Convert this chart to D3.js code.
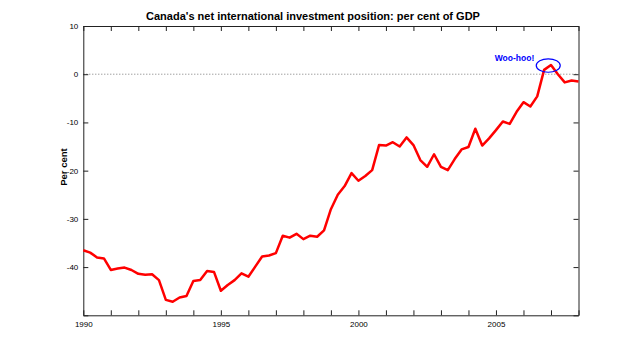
<!DOCTYPE html>
<html>
<head>
<meta charset="utf-8">
<script src="https://cdn.jsdelivr.net/npm/d3@7"></script>
<style>
	body { margin: 0; background: #fff; }
	text { font-family: 'Liberation Sans', Arial, sans-serif; }
</style>
</head>
<body>
<div id="chart"></div>
<script>
// quarterly, 1990Q1 .. 2008Q1
const startYear = 1990;
const niip = [
	-36.5, -37.0, -38.0, -38.2, -40.6, -40.3, -40.1, -40.6, -41.4, -41.6,
	-41.5, -42.7, -46.8, -47.2, -46.3, -46.0, -42.9, -42.7, -40.8, -41.0,
	-44.9, -43.7, -42.7, -41.3, -42.0, -39.9, -37.8, -37.6, -37.1, -33.5,
	-33.9, -33.1, -34.2, -33.5, -33.7, -32.4, -28.0, -25.0, -23.2, -20.5,
	-22.1, -21.1, -19.9, -14.7, -14.8, -14.1, -15.0, -13.1, -14.7, -17.8,
	-19.2, -16.6, -19.2, -19.9, -17.6, -15.6, -15.1, -11.3, -14.8, -13.3,
	-11.6, -9.8, -10.3, -7.8, -5.8, -6.7, -4.6, 0.9, 1.9, 0.0,
	-1.7, -1.3, -1.5
];
const xTicks = d3.range(1990, 2009);
const xLabels = [1990, 1995, 2000, 2005];
const yTicks = [10, 0, -10, -20, -30, -40, -50];
const yLabels = [10, 0, -10, -20, -30, -40];
const note = { year: 2006.9, value: 1.8, text: 'Woo-hoo!' };

const W = 640, H = 354;
const margin = { top: 26, right: 61.5, bottom: 38.7, left: 83.3 };
const width = W - margin.left - margin.right;
const height = H - margin.top - margin.bottom;

const svg = d3.select('#chart').append('svg').attr('width', W).attr('height', H);
const g = svg.append('g').attr('transform', `translate(${margin.left},${margin.top})`);

const x = d3.scaleLinear().domain([1990, 2008]).range([0, width]);
const y = d3.scaleLinear().domain([-50, 10]).range([height, 0]);

const axisColor = '#222';
const tick = 5;

// zero reference line
g.append('line')
	.attr('x1', 0).attr('x2', width)
	.attr('y1', y(0)).attr('y2', y(0))
	.attr('stroke', '#777').attr('stroke-width', 1)
	.attr('stroke-dasharray', '1,2');

// ticks, pointing inward on all four sides
const fmtX = (d) => (xLabels.includes(d) ? d : '');
const fmtY = (d) => (yLabels.includes(d) ? d : '');

const axBottom = g.append('g').attr('transform', `translate(0,${height})`)
	.call(d3.axisBottom(x).tickValues(xTicks).tickFormat(fmtX).tickSizeInner(-tick).tickSizeOuter(0).tickPadding(6));
const axTop = g.append('g')
	.call(d3.axisTop(x).tickValues(xTicks).tickFormat('').tickSizeInner(-tick).tickSizeOuter(0));
const axLeft = g.append('g')
	.call(d3.axisLeft(y).tickValues(yTicks).tickFormat(fmtY).tickSizeInner(-tick).tickSizeOuter(0).tickPadding(5));
const axRight = g.append('g').attr('transform', `translate(${width},0)`)
	.call(d3.axisRight(y).tickValues(yTicks).tickFormat('').tickSizeInner(-tick).tickSizeOuter(0));

[axBottom, axTop, axLeft, axRight].forEach((a) => {
	a.select('.domain').attr('stroke', axisColor);
	a.selectAll('line').attr('stroke', axisColor);
	a.selectAll('text').attr('fill', '#000').style('font-size', '8px');
});

// the series
const line = d3.line()
	.x((d, i) => x(startYear + i / 4))
	.y((d) => y(d));

g.append('path')
	.datum(niip)
	.attr('fill', 'none')
	.attr('stroke', '#ff0000')
	.attr('stroke-width', 2.5)
	.attr('stroke-linejoin', 'round')
	.attr('d', line);

// annotation
g.append('ellipse')
	.attr('cx', x(note.year)).attr('cy', y(note.value))
	.attr('rx', 12).attr('ry', 6.7)
	.attr('fill', 'none').attr('stroke', '#0000ff').attr('stroke-width', 1.2);

g.append('text')
	.attr('x', x(note.year) - 14).attr('y', y(note.value) - 4.5)
	.attr('text-anchor', 'end')
	.attr('fill', '#0000ff')
	.style('font-size', '8.5px').style('font-weight', 'bold')
	.text(note.text);

// titles
svg.append('text')
	.attr('x', 313).attr('y', 20)
	.attr('text-anchor', 'middle')
	.style('font-size', '11px').style('font-weight', 'bold')
	.text("Canada's net international investment position: per cent of GDP");

svg.append('text')
	.attr('transform', `translate(67,167) rotate(-90)`)
	.attr('text-anchor', 'middle')
	.style('font-size', '9.5px').style('font-weight', 'bold')
	.text('Per cent');
</script>
</body>
</html>
